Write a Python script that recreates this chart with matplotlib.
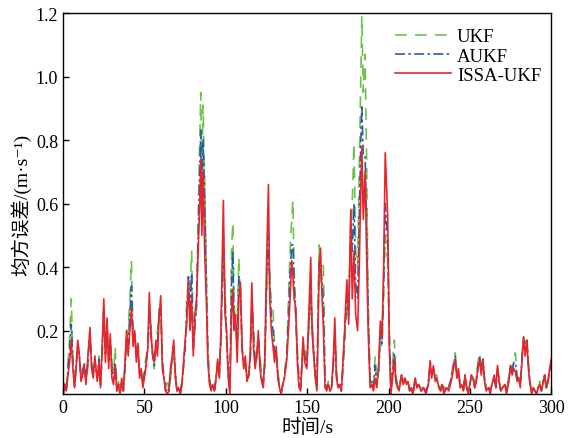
import matplotlib
matplotlib.use("Agg")
import matplotlib.pyplot as plt

# time (s) and mean-square error of the three filters
t = [0, 1, 2, 3, 4, 5, 6, 7, 8, 9,
     10, 11, 12, 13, 14, 15, 16.5, 17.5, 18.5, 19.5,
     21, 22, 23, 24, 25, 26, 27, 28, 29, 30,
     31, 32, 33, 34, 35, 36, 37, 38, 39, 40,
     41, 42, 43, 44, 45, 46, 47, 48, 49, 50.5,
     52, 53, 54, 55, 56, 57, 58, 59, 60, 61,
     62, 63, 64, 65, 66, 67, 68, 69, 70, 71,
     72, 73, 74, 75, 76, 77, 78, 79, 80, 81,
     82, 83, 84, 84.6, 85.3, 86, 87, 88, 89, 90,
     91, 92, 93, 94, 95, 96, 97, 98.5, 99.5, 100.5,
     101.5, 102.5, 103.5, 104.3, 105, 106, 107, 108, 109, 110,
     111, 112, 113, 114, 115, 116, 117, 118, 119, 120,
     121, 122, 123, 124, 125, 126.2, 127, 128, 129, 130,
     131, 132, 133, 134, 135, 136, 137.5, 138.5, 139.5, 140.5,
     141.2, 142, 143, 144, 145, 146, 147.5, 148.5, 149.8, 151,
     152.2, 153, 154, 155, 156, 157.3, 158.2, 159.2, 160, 161,
     162, 163, 164, 165, 166, 167, 168, 169, 170, 171,
     172, 173, 174.4, 175.5, 176.8, 177.7, 178.8, 179.8, 181, 182,
     183, 183.6, 184.5, 185.6, 186.5, 187.5, 188.7, 189.7, 190.7, 191.8,
     192.8, 194, 195, 196, 197, 198, 199.5, 200.5, 201.5, 202.5,
     203.6, 204.5, 205.5, 206.5, 208, 209, 210, 211, 212, 213,
     214, 215, 216.4, 217.5, 218.5, 220, 221.5, 223, 224.5, 225.6,
     226.5, 227.6, 228.7, 229.7, 231, 232, 233, 234, 235.5, 237,
     238.5, 240, 241, 242, 243, 244, 245, 246, 247, 248,
     249, 250, 251, 252, 253, 254, 255, 256, 257, 258,
     259, 260, 261.5, 262.5, 263.5, 265, 266, 267, 268, 269,
     270, 271.6, 272.5, 274, 275, 276, 277, 278, 279, 280,
     281, 282, 283, 284, 285, 286, 287, 288, 289, 290,
     291, 292, 293, 294, 295, 296, 297, 298, 299, 300]

ukf = [0, .04, .02, .10, .17, .30, .12, .03, .10, .14,
       .11, .06, .08, .08, .05, .07, .18, .10, .07, .08,
       .05, .12, .03, .12, .22, .14, .19, .12, .15, .10,
       .07, .15, .02, .04, .01, .03, .01, .07, .17, .20,
       .30, .42, .20, .18, .14, .13, .07, .06, .04, .10,
       .15, .22, .22, .12, .08, .14, .20, .27, .25, .12,
       .05, .02, .05, .01, .05, .10, .12, .07, .02, .02,
       .01, .04, .08, .13, .30, .35, .32, .45, .16, .20,
       .27, .55, .80, .95, .70, .91, .67, .40, .14, .05,
       .02, .03, .01, .05, .09, .07, .15, .45, .33, .16,
       .07, .02, .45, .54, .30, .20, .22, .43, .30, .13,
       .10, .08, .06, .05, .10, .28, .22, .12, .11, .16,
       .12, .06, .03, .09, .30, .42, .38, .27, .27, .15,
       .12, .07, .03, .01, .03, .06, .14, .30, .45, .55,
       .61, .40, .22, .14, .04, .03, .14, .15, .10, .20,
       .30, .25, .14, .07, .03, .47, .35, .41, .40, .04,
       .02, .04, .01, .02, .08, .17, .07, .02, .03, .01,
       .08, .16, .28, .30, .50, .60, .79, .45, .40, .70,
       .98, 1.19, .95, 1.07, .75, .30, .04, .05, .03, .12,
       .04, .07, .18, .15, .30, .50, .42, .20, .02, .10,
       .17, .06, .03, .02, .05, .04, .05, .04, .03, .02,
       .02, .01, .04, .03, .03, .02, .02, .01, .04, .09,
       .07, .07, .06, .06, .03, .01, .04, .02, .02, .02,
       .06, .10, .13, .07, .07, .03, .03, .02, .05, .03,
       .01, .03, .05, .05, .03, .06, .10, .13, .08, .10,
       .05, .02, .02, .01, .03, .05, .03, .07, .05, .01,
       .02, .03, .01, .06, .09, .08, .11, .13, .06, .05,
       .03, .12, .18, .16, .18, .10, .04, .01, .02, .01,
       .01, .02, .04, .01, .03, .05, .02, .04, .06, .09]

aukf = [0, .03, .01, .08, .14, .22, .10, .02, .09, .16,
        .12, .05, .07, .10, .04, .09, .20, .09, .06, .10,
        .05, .11, .03, .14, .27, .12, .22, .10, .17, .07,
        .05, .10, .01, .03, 0, .04, .01, .08, .18, .16,
        .25, .34, .18, .19, .12, .14, .06, .07, .03, .08,
        .14, .27, .20, .12, .09, .15, .16, .26, .28, .10,
        .05, .01, .02, .01, .06, .11, .15, .06, .01, .02,
        0, .03, .09, .15, .26, .37, .26, .38, .14, .22,
        .28, .50, .70, .83, .60, .80, .64, .35, .12, .04,
        .02, .03, .01, .05, .10, .06, .18, .50, .30, .18,
        .06, .01, .35, .45, .25, .22, .15, .37, .33, .14,
        .09, .10, .05, .06, .11, .30, .18, .10, .12, .18,
        .10, .05, .03, .10, .35, .50, .35, .24, .20, .12,
        .13, .06, .02, 0, .03, .05, .12, .25, .38, .47,
        .47, .35, .25, .12, .03, .02, .16, .12, .09, .22,
        .33, .22, .13, .06, .02, .42, .40, .35, .28, .03,
        .02, .03, .01, .02, .09, .20, .06, .02, .03, .01,
        .09, .18, .32, .25, .55, .45, .60, .35, .30, .55,
        .80, .91, .75, .75, .55, .25, .03, .04, .02, .09,
        .03, .08, .20, .16, .35, .60, .48, .18, .01, .07,
        .13, .05, .02, .02, .06, .03, .05, .03, .04, .01,
        .02, 0, .05, .02, .03, .01, .02, .01, .03, .10,
        .06, .08, .05, .05, .02, .01, .03, .01, .02, .02,
        .05, .09, .12, .06, .07, .03, .03, .01, .06, .02,
        .01, .03, .06, .05, .02, .05, .09, .12, .07, .11,
        .05, .02, .02, .01, .03, .05, .02, .08, .04, .01,
        .02, .03, .01, .05, .09, .07, .10, .10, .05, .05,
        .03, .11, .17, .14, .17, .09, .03, .01, .02, .01,
        0, .02, .03, .01, .04, .06, .02, .04, .07, .10]

issa = [0, .03, .01, .06, .10, .17, .08, .02, .08, .17,
        .12, .04, .06, .09, .03, .10, .21, .08, .05, .12,
        .04, .10, .02, .15, .30, .10, .24, .08, .19, .05,
        .03, .09, .01, .03, 0, .05, .01, .10, .20, .12,
        .20, .27, .15, .20, .10, .16, .05, .08, .02, .07,
        .14, .32, .18, .13, .10, .17, .12, .24, .31, .08,
        .05, .01, 0, .01, .08, .12, .17, .05, .01, .02,
        0, .03, .10, .17, .22, .36, .20, .30, .12, .25,
        .30, .45, .60, .74, .50, .70, .45, .30, .10, .03,
        .01, .03, .01, .05, .11, .05, .20, .61, .25, .20,
        .05, 0, .25, .33, .20, .25, .10, .30, .35, .15,
        .08, .12, .04, .06, .12, .35, .15, .08, .12, .20,
        .08, .04, .02, .12, .40, .66, .30, .20, .15, .10,
        .15, .05, .02, 0, .03, .05, .11, .20, .30, .42,
        .38, .30, .27, .10, .02, .01, .18, .10, .08, .25,
        .43, .20, .12, .05, .01, .38, .46, .30, .20, .02,
        .01, .03, .01, .02, .10, .24, .05, .02, .03, .01,
        .10, .20, .36, .22, .58, .30, .45, .25, .20, .40,
        .65, .78, .55, .70, .45, .20, .02, .03, .01, .05,
        .02, .10, .23, .18, .40, .76, .56, .15, 0, .05,
        .11, .04, .02, .01, .06, .03, .05, .03, .04, .01,
        .02, 0, .05, .02, .03, .01, .02, 0, .03, .105,
        .05, .09, .04, .05, .02, .01, .03, 0, .02, .01,
        .04, .08, .11, .05, .08, .02, .03, .01, .06, .02,
        0, .03, .06, .05, .02, .04, .08, .11, .06, .11,
        .04, .01, .02, 0, .03, .06, .02, .09, .04, .01,
        .02, .03, 0, .04, .09, .06, .08, .07, .04, .05,
        .02, .10, .18, .12, .17, .08, .03, 0, .02, .01,
        0, .02, .03, .01, .04, .06, .02, .04, .08, .11]

x_ticks = [0, 50, 100, 150, 200, 250, 300]
y_ticks = [0.2, 0.4, 0.6, 0.8, 1.0, 1.2]

plt.rcParams['font.family'] = ['Liberation Serif', 'Noto Sans CJK SC', 'DejaVu Sans']

fig = plt.figure(figsize=(5.79, 4.39), dpi=100)
ax = fig.add_axes([0.109, 0.100, 0.843, 0.868])

ax.plot(t, ukf, color="#6cc24a", linestyle=(0, (7, 5)), linewidth=1.2, label="UKF")
ax.plot(t, aukf, color="#2b5ba8", linestyle=(0, (6, 2, 1.5, 2)), linewidth=1.2, label="AUKF")
ax.plot(t, issa, color="#e8252b", linestyle="-", linewidth=1.2, label="ISSA-UKF")

ax.set_xlim(0, 300); ax.set_ylim(0, 1.2)
ax.set_xticks(x_ticks); ax.set_yticks(y_ticks)
ax.set_yticklabels([f"{v:.1f}" for v in y_ticks])
ax.tick_params(direction="in", labelsize=13, length=4, width=1)
for s in ax.spines.values():
    s.set_linewidth(1.0)

ax.set_xlabel("时间/s", fontsize=14, labelpad=1)
ax.set_ylabel("均方误差/(m·s\u207b\u00b9)", fontsize=14, labelpad=3)

ax.legend(loc="upper right", bbox_to_anchor=(1.01, 1.0), frameon=False, fontsize=13.5,
          handlelength=3.0, handletextpad=0.3, labelspacing=0.12, borderpad=0.3)

fig.savefig("out.png", dpi=100)
plt.close(fig)
